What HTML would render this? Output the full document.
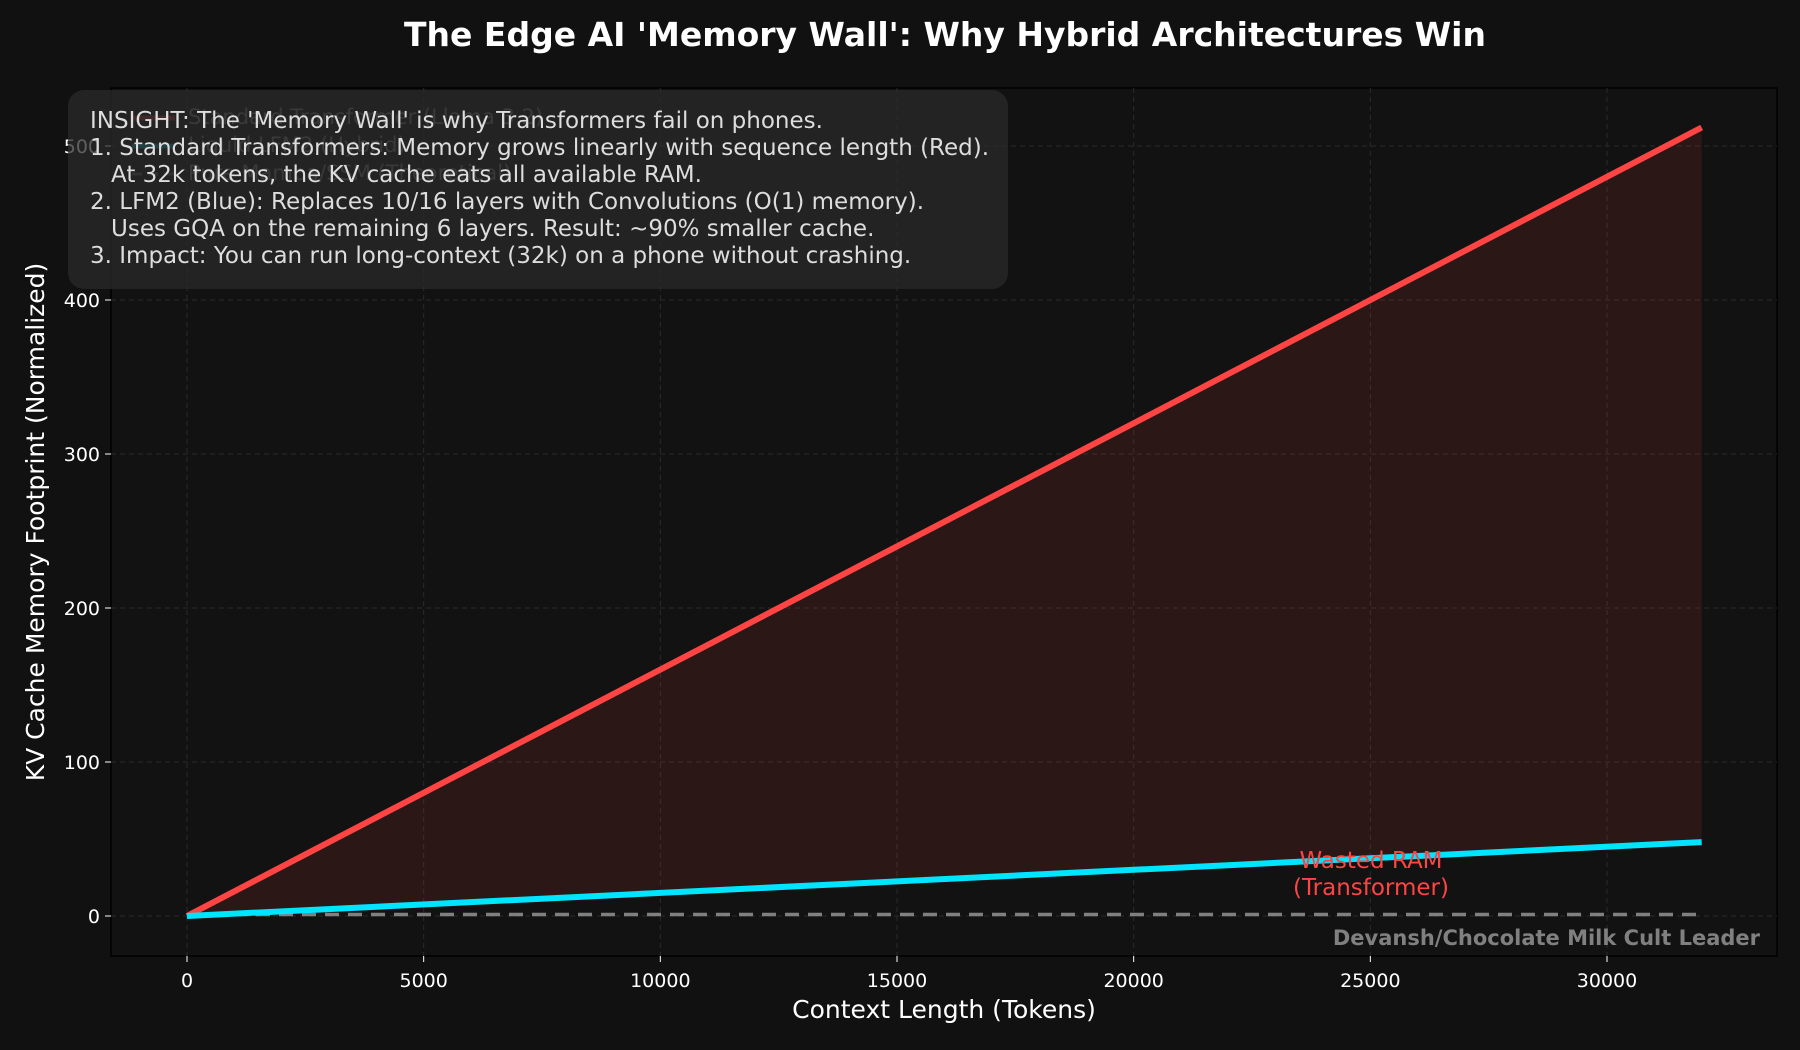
<!DOCTYPE html>
<html><head><meta charset="utf-8"><style>
body{margin:0;background:#111111;}
svg{display:block;font-family:"DejaVu Sans","Liberation Sans",sans-serif;}
</style></head><body>
<svg id="chart" width="1800" height="1050" viewBox="0 0 1800 1050">
<rect x="0" y="0" width="1800" height="1050" fill="#111111"/>
<text x="945" y="46" text-anchor="middle" font-size="33" font-weight="bold" fill="#ffffff">The Edge AI 'Memory Wall': Why Hybrid Architectures Win</text>
<rect x="111" y="88" width="1666" height="868" fill="#121212" stroke="#000" stroke-width="1.5"/>
<g id="grid"></g>
<g id="marks"></g>
<g id="axes"></g>
<text x="944" y="1018" text-anchor="middle" font-size="25" fill="#ffffff">Context Length (Tokens)</text>
<text transform="translate(44,522) rotate(-90)" text-anchor="middle" font-size="25" fill="#ffffff">KV Cache Memory Footprint (Normalized)</text>
<g opacity="0.5">
<line x1="132" y1="118" x2="175" y2="118" stroke="#ff4444" stroke-width="5"/>
<line x1="132" y1="146" x2="175" y2="146" stroke="#00e5ff" stroke-width="5"/>
<line x1="132" y1="174" x2="175" y2="174" stroke="#808080" stroke-width="3" stroke-dasharray="10,6"/>
<text x="188" y="124" font-size="21" fill="#bbb">Standard Transformer (Llama 3.2)</text>
<text x="188" y="152" font-size="21" fill="#bbb">Liquid LFM2 (Hybrid)</text>
<text x="188" y="180" font-size="21" fill="#bbb">Pure Mamba/SSM (Theoretical)</text>
</g>
<rect x="68" y="90" width="940" height="199" rx="16" fill="#2a2a2a" opacity="0.75"/>
<g font-size="23" fill="#dddddd">
<text x="90" y="128">INSIGHT: The 'Memory Wall' is why Transformers fail on phones.</text>
<text x="90" y="155">1. Standard Transformers: Memory grows linearly with sequence length (Red).</text>
<text x="111" y="182">At 32k tokens, the KV cache eats all available RAM.</text>
<text x="90" y="209">2. LFM2 (Blue): Replaces 10/16 layers with Convolutions (O(1) memory).</text>
<text x="111" y="236">Uses GQA on the remaining 6 layers. Result: ~90% smaller cache.</text>
<text x="90" y="263">3. Impact: You can run long-context (32k) on a phone without crashing.</text>
</g>
<text x="1371" y="868" text-anchor="middle" font-size="23" fill="#ff4444">Wasted RAM</text>
<text x="1371" y="895" text-anchor="middle" font-size="23" fill="#ff4444">(Transformer)</text>
<text x="1760" y="945" text-anchor="end" font-size="21" font-weight="bold" fill="#808080">Devansh/Chocolate Milk Cult Leader</text>
</svg>
<script>
const tokens = [0, 32000];
const transformerMem = [0, 512];
const lfm2Mem = [0, 48];
const ssmMem = [1, 1];
const xTicks = [0, 5000, 10000, 15000, 20000, 25000, 30000];
const yTicks = [0, 100, 200, 300, 400, 500];
const NS = 'http://www.w3.org/2000/svg';
const xs = v => 187 + v * (1420 / 30000);
const ys = v => 916 - v * 1.54;
function mk(tag, attrs, parent) {
  const e = document.createElementNS(NS, tag);
  for (const k in attrs) e.setAttribute(k, attrs[k]);
  document.getElementById(parent).appendChild(e);
  return e;
}
xTicks.forEach(t => {
  const g = mk('line', {x1: xs(t), x2: xs(t), y1: 88, y2: 956, stroke: '#2a2a2a', 'stroke-dasharray': '5,4'}, 'grid');
  
  
  const tk = mk('line', {x1: xs(t), x2: xs(t), y1: 956, y2: 962, stroke: '#fff'}, 'axes');
  
  
  const l = mk('text', {x: xs(t), y: 987, 'text-anchor': 'middle', 'font-size': 19, fill: '#fff'}, 'axes');
  l.textContent = t;
  
  
});
yTicks.forEach(t => {
  const g = mk('line', {x1: 111, x2: 1777, y1: ys(t), y2: ys(t), stroke: '#2a2a2a', 'stroke-dasharray': '5,4'}, 'grid');
  
  
  const tk = mk('line', {x1: 105, x2: 111, y1: ys(t), y2: ys(t), stroke: '#fff'}, 'axes');
  
  
  const l = mk('text', {x: 100, y: ys(t) + 7, 'text-anchor': 'end', 'font-size': 19, fill: '#fff'}, 'axes');
  l.textContent = t;
  
  
});
const upperPts = tokens.map((t, i) => xs(t) + ',' + ys(transformerMem[i]));
const lowerPts = tokens.map((t, i) => xs(t) + ',' + ys(lfm2Mem[i])).reverse();
const area = mk('polygon', {points: upperPts.concat(lowerPts).join(' '), fill: '#ff4444', 'fill-opacity': 0.11}, 'marks');


function drawLine(vals, color, w, dash, name) {
  const p = mk('polyline', {points: tokens.map((t, i) => xs(t) + ',' + ys(vals[i])).join(' '), fill: 'none', stroke: color, 'stroke-width': w}, 'marks');
  if (dash) p.setAttribute('stroke-dasharray', dash);
  
  
}
drawLine(ssmMem, '#808080', 3.5, '14,9', 'ssm-line');
drawLine(transformerMem, '#ff4444', 6, null, 'transformer-line');
drawLine(lfm2Mem, '#00e5ff', 6, null, 'lfm2-line');
</script>
</body></html>
